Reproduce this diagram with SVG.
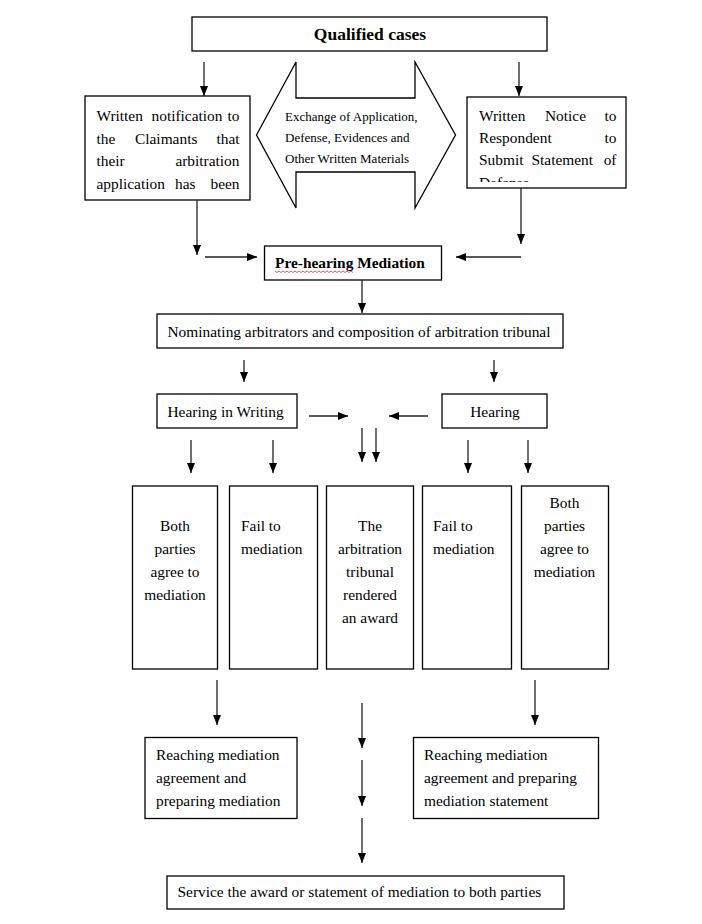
<svg xmlns="http://www.w3.org/2000/svg" width="702" height="924" viewBox="0 0 702 924">
<style>
.box{fill:#fff;stroke:#000;stroke-width:1.3}
.t{font-family:"Liberation Serif","Times New Roman",serif;font-size:15.4px;fill:#000}
.b{font-weight:bold}
.s{font-size:13px}
.c{text-anchor:middle}
.e{text-anchor:end}
.ar{stroke:#222;stroke-width:1.3;fill:none;marker-end:url(#ah)}
</style>
<defs>
<marker id="ah" markerUnits="userSpaceOnUse" markerWidth="10" markerHeight="10" viewBox="0 0 10 10" refX="10" refY="5" orient="auto">
<path d="M0,1 L10,5 L0,9 Z" fill="#000"/>
</marker>
<clipPath id="rclip"><rect x="468" y="98" width="158" height="84"/></clipPath>
</defs>
<rect width="702" height="924" fill="#fff"/>

<g id="qualified">
<rect class="box" x="192" y="17" width="355" height="34"/>
<text class="t b c" x="370" y="40" style="font-size:17.5px">Qualified cases</text>
</g>

<g id="notify-claimants">
<rect class="box" x="85" y="96" width="165" height="104"/>
<text class="t" x="96.5" y="121">Written</text>
<text class="t" x="151.5" y="121">notification</text>
<text class="t e" x="239.5" y="121">to</text>
<text class="t" x="96.5" y="143.5">the</text>
<text class="t" x="135" y="143.5">Claimants</text>
<text class="t e" x="239.5" y="143.5">that</text>
<text class="t" x="96.5" y="166">their</text>
<text class="t e" x="239.5" y="166">arbitration</text>
<text class="t" x="96.5" y="188.5">application</text>
<text class="t" x="175" y="188.5">has</text>
<text class="t e" x="239.5" y="188.5">been</text>
</g>

<g id="exchange">
<path class="box" d="M256.5,135 L296,62 L296,98 L415,98 L415,62 L455.5,135 L415,208 L415,172 L296,172 L296,208 Z"/>
<text class="t s" x="285" y="120.5">Exchange of Application,</text>
<text class="t s" x="285" y="141.5">Defense, Evidences and</text>
<text class="t s" x="285" y="162.5">Other Written Materials</text>
</g>

<g id="notice-respondent">
<rect class="box" x="467" y="97" width="159" height="91"/>
<g clip-path="url(#rclip)">
<text class="t" x="479" y="120.5">Written</text>
<text class="t" x="545" y="120.5">Notice</text>
<text class="t e" x="616.5" y="120.5">to</text>
<text class="t" x="479" y="142.5">Respondent</text>
<text class="t e" x="616.5" y="142.5">to</text>
<text class="t" x="479" y="165">Submit</text>
<text class="t" x="531.5" y="165">Statement</text>
<text class="t e" x="616.5" y="165">of</text>
<text class="t" x="479" y="187.5">Defense</text>
</g>
</g>

<g id="pre-hearing">
<rect class="box" x="264.5" y="246" width="177" height="34"/>
<text class="t b" x="275" y="267.5">Pre-hearing Mediation</text>
<polyline points="275,271 277,272.5 279,271 281,272.5 283,271 285,272.5 287,271 289,272.5 291,271 293,272.5 295,271 297,272.5 299,271 301,272.5 303,271 305,272.5 307,271 309,272.5 311,271 313,272.5 315,271 317,272.5 319,271 321,272.5 323,271 325,272.5 327,271 329,272.5 331,271 333,272.5 335,271 337,272.5 339,271 341,272.5 343,271 345,272.5 347,271 349,272.5 351,271 353,272.5" fill="none" stroke="#e03030" stroke-width="0.8"/>
</g>

<g id="nominating">
<rect class="box" x="157" y="314" width="406" height="34"/>
<text class="t" x="167.5" y="336.5">Nominating arbitrators and composition of arbitration tribunal</text>
</g>

<g id="hearing-writing">
<rect class="box" x="157" y="394" width="140" height="34"/>
<text class="t" x="167.5" y="417">Hearing in Writing</text>
</g>

<g id="hearing">
<rect class="box" x="442" y="394" width="105" height="34"/>
<text class="t c" x="495" y="417">Hearing</text>
</g>

<g id="agree-left">
<rect class="box" x="132.5" y="486" width="85" height="183"/>
<text class="t c" x="175" y="531">Both</text>
<text class="t c" x="175" y="554">parties</text>
<text class="t c" x="175" y="577">agree to</text>
<text class="t c" x="175" y="600">mediation</text>
</g>

<g id="fail-left">
<rect class="box" x="229.5" y="486" width="88" height="183"/>
<text class="t" x="241" y="531">Fail to</text>
<text class="t" x="241" y="554">mediation</text>
</g>

<g id="award">
<rect class="box" x="326.5" y="486" width="87" height="183"/>
<text class="t c" x="370" y="531">The</text>
<text class="t c" x="370" y="554">arbitration</text>
<text class="t c" x="370" y="577">tribunal</text>
<text class="t c" x="370" y="600">rendered</text>
<text class="t c" x="370" y="623">an award</text>
</g>

<g id="fail-right">
<rect class="box" x="422.5" y="486" width="89" height="183"/>
<text class="t" x="433" y="531">Fail to</text>
<text class="t" x="433" y="554">mediation</text>
</g>

<g id="agree-right">
<rect class="box" x="521.5" y="486" width="87" height="183"/>
<text class="t c" x="564.5" y="508">Both</text>
<text class="t c" x="564.5" y="531">parties</text>
<text class="t c" x="564.5" y="554">agree to</text>
<text class="t c" x="564.5" y="577">mediation</text>
</g>

<g id="reach-left">
<rect class="box" x="145" y="737.5" width="152" height="81"/>
<text class="t" x="156" y="760">Reaching mediation</text>
<text class="t" x="156" y="783">agreement and</text>
<text class="t" x="156" y="806">preparing mediation</text>
</g>

<g id="reach-right">
<rect class="box" x="413.5" y="737.5" width="185" height="81"/>
<text class="t" x="424" y="760">Reaching mediation</text>
<text class="t" x="424" y="783">agreement and preparing</text>
<text class="t" x="424" y="806">mediation statement</text>
</g>

<g id="service">
<rect class="box" x="167" y="876" width="397" height="33"/>
<text class="t" x="177.5" y="896.5">Service the award or statement of mediation to both parties</text>
</g>

<g id="connectors">
<line class="ar" x1="204" y1="62" x2="204" y2="96"/>
<line class="ar" x1="519" y1="62" x2="519" y2="96"/>
<line class="ar" x1="197" y1="200" x2="197" y2="255"/>
<line class="ar" x1="205" y1="257" x2="257" y2="257"/>
<line class="ar" x1="521" y1="188" x2="521" y2="244"/>
<line class="ar" x1="521" y1="257" x2="456" y2="257"/>
<line class="ar" x1="362" y1="280" x2="362" y2="313"/>
<line class="ar" x1="244" y1="360" x2="244" y2="382"/>
<line class="ar" x1="494" y1="360" x2="494" y2="382"/>
<line class="ar" x1="309" y1="416" x2="348" y2="416"/>
<line class="ar" x1="428" y1="416" x2="389" y2="416"/>
<line class="ar" x1="362" y1="428" x2="362" y2="462"/>
<line class="ar" x1="376" y1="428" x2="376" y2="462"/>
<line class="ar" x1="191" y1="440" x2="191" y2="473"/>
<line class="ar" x1="273" y1="440" x2="273" y2="473"/>
<line class="ar" x1="468" y1="440" x2="468" y2="473"/>
<line class="ar" x1="528" y1="440" x2="528" y2="473"/>
<line class="ar" x1="217" y1="680" x2="217" y2="725"/>
<line class="ar" x1="535" y1="680" x2="535" y2="725"/>
<line class="ar" x1="362" y1="703" x2="362" y2="748"/>
<line class="ar" x1="362" y1="760" x2="362" y2="806"/>
<line class="ar" x1="362" y1="818" x2="362" y2="863"/>
</g>
</svg>
